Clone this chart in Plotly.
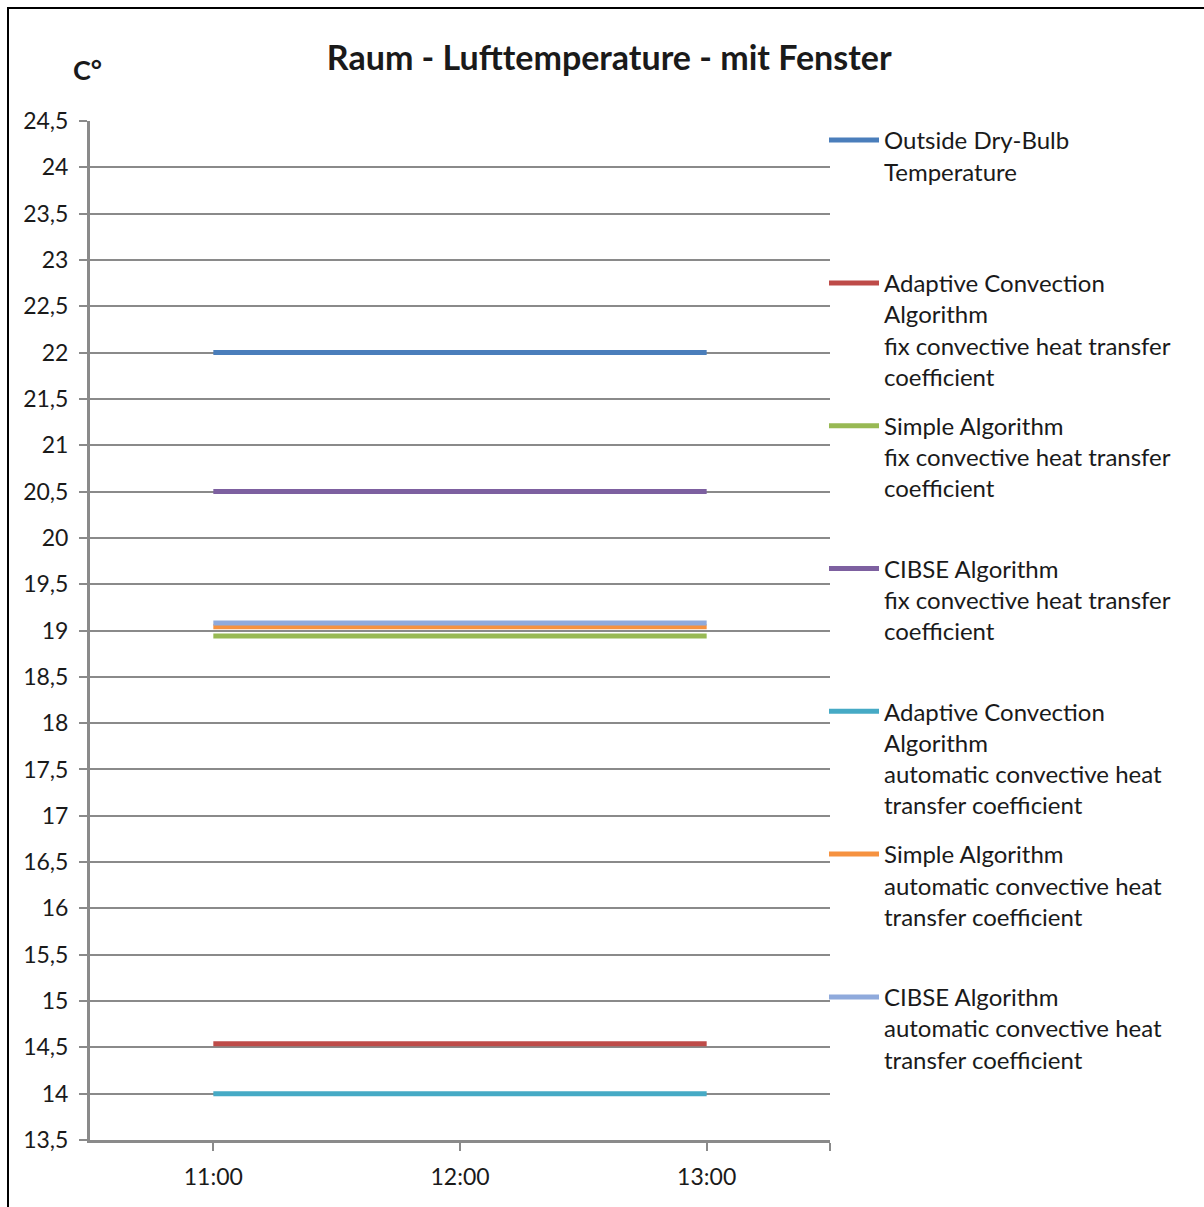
import plotly.graph_objects as go

times = ["11:00", "12:00", "13:00"]
series_names = [
    "Outside Dry-Bulb<br>Temperature",
    "Adaptive Convection<br>Algorithm<br>fix convective heat transfer<br>coefficient",
    "Simple Algorithm<br>fix convective heat transfer<br>coefficient",
    "CIBSE Algorithm<br>fix convective heat transfer<br>coefficient",
    "Adaptive Convection<br>Algorithm<br>automatic convective heat<br>transfer coefficient",
    "Simple Algorithm<br>automatic convective heat<br>transfer coefficient",
    "CIBSE Algorithm<br>automatic convective heat<br>transfer coefficient",
]
outside_dry_bulb = [22.0, 22.0, 22.0]
adaptive_fix = [14.54, 14.54, 14.54]
simple_fix = [18.94, 18.94, 18.94]
cibse_fix = [20.5, 20.5, 20.5]
adaptive_auto = [14.0, 14.0, 14.0]
simple_auto = [19.04, 19.04, 19.04]
cibse_auto = [19.08, 19.08, 19.08]
series_values = [outside_dry_bulb, adaptive_fix, simple_fix, cibse_fix,
                 adaptive_auto, simple_auto, cibse_auto]
colors = ["#4A7EBB", "#BE4B48", "#98B954", "#7D60A0", "#46AAC5", "#F69240", "#8FAADC"]

y_ticks = [13.5 + 0.5 * i for i in range(23)]

fig = go.Figure()
x_idx = list(range(len(times)))
for i, (name, vals, col) in enumerate(zip(series_names, series_values, colors)):
    # pad to 4 lines so every legend entry has equal height
    n_lines = name.count("<br>") + 1
    label = name + "<br> " * (4 - n_lines)
    fig.add_trace(go.Scatter(
        x=x_idx, y=vals, mode="lines", name=label,
        line=dict(color=col, width=5),
        legendgroup=f"g{i}",
    ))

fig.update_layout(
    width=1204, height=1207,
    margin=dict(l=90, r=374, t=121, b=67),
    paper_bgcolor="white", plot_bgcolor="white",
    separators=",.",
    font=dict(family="Lato, Open Sans, sans-serif", size=23, color="#1a1a1a"),
    title=dict(text="<b>Raum - Lufttemperature - mit Fenster</b>",
               x=0.506, xanchor="center", y=0.952, yanchor="middle",
               font=dict(size=34, color="#1a1a1a")),
    showlegend=True,
    legend=dict(x=1.0 - 6 / 740, xanchor="left", y=1.0 + 3 / 1019, yanchor="top",
                valign="top", tracegroupgap=15, itemwidth=50, maxheight=1150,
                font=dict(size=24, color="#1a1a1a"),
                bgcolor="rgba(0,0,0,0)"),
    xaxis=dict(
        range=[-0.5, 2.5],
        tickvals=x_idx + [2.5], ticktext=times + [""],
        ticks="outside", ticklen=8, tickcolor="#8a8a8a", tickwidth=2,
        showline=True, linecolor="#8a8a8a", linewidth=3,
        showgrid=False, zeroline=False, ticklabelstandoff=6,
        tickfont=dict(size=23, color="#1a1a1a"),
    ),
    yaxis=dict(
        range=[13.5, 24.5],
        tickvals=y_ticks,
        ticks="outside", ticklen=8, tickcolor="#8a8a8a", tickwidth=2,
        showline=True, linecolor="#8a8a8a", linewidth=3,
        showgrid=True, gridcolor="#8a8a8a", gridwidth=2,
        zeroline=False, ticklabelstandoff=6,
        tickfont=dict(size=23, color="#1a1a1a"),
    ),
    shapes=[dict(type="rect", xref="paper", yref="paper",
                 x0=(8 - 90) / 740, x1=(1215 - 90) / 740,
                 y0=(1140 - 1220) / 1019, y1=(1140 - 8) / 1019,
                 line=dict(color="black", width=2), fillcolor="rgba(0,0,0,0)",
                 layer="below")],
    annotations=[dict(text="<b>C°</b>", xref="paper", yref="paper",
                      x=(87 - 90) / 740, y=(1140 - 70) / 1019,
                      xanchor="center", yanchor="middle", showarrow=False,
                      font=dict(size=27, color="#1a1a1a"))],
)

fig.write_html("out.html")
